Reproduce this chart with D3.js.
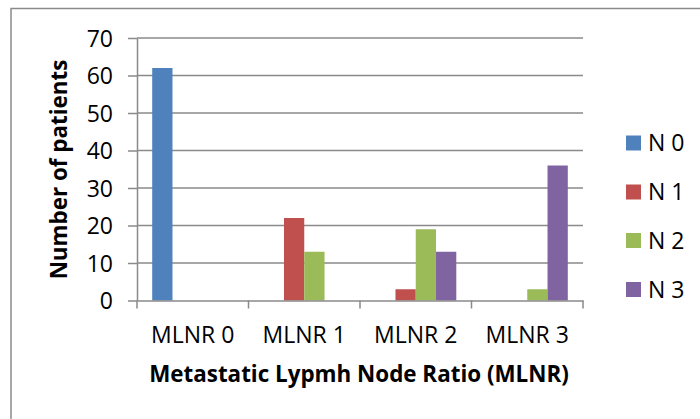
<!DOCTYPE html>
<html>
<head>
<meta charset="utf-8">
<script src="https://cdn.jsdelivr.net/npm/d3@7"></script>
<style>
  html, body { margin: 0; padding: 0; background: #fff; }
  svg { display: block; }
  text { font-family: "Open Sans", sans-serif; fill: #000; }
</style>
</head>
<body>
<svg id="chart" width="700" height="419"></svg>
<script>
const categories = ["MLNR 0", "MLNR 1", "MLNR 2", "MLNR 3"];
const seriesNames = ["N 0", "N 1", "N 2", "N 3"];
const seriesColors = ["#4F81BD", "#C0504D", "#9BBB59", "#8064A2"];
const n0 = [62, 0, 0, 0];
const n1 = [0, 22, 3, 0];
const n2 = [0, 13, 19, 3];
const n3 = [0, 0, 13, 36];
const yTicks = [0, 10, 20, 30, 40, 50, 60, 70];
const yTitle = "Number of patients";
const xTitle = "Metastatic Lypmh Node Ratio (MLNR)";

(function () {
const seriesValues = [n0, n1, n2, n3];
const svg = d3.select("#chart");

// outer chart border (extends past right/bottom edges)
svg.append("rect")
  .attr("x", 11).attr("y", 8.5)
  .attr("width", 760).attr("height", 480)
  .attr("fill", "none").attr("stroke", "#8a8a8a").attr("stroke-width", 1.5);

const pl = 137, pr = 583, pt = 38, pb = 300.5;

const x0 = d3.scaleBand().domain(categories).range([pl, pr]).paddingInner(0).paddingOuter(0);
const barW = x0.bandwidth() / 5.5;
const x1 = d3.scaleBand().domain(seriesNames)
  .range([barW * 0.75, barW * 0.75 + barW * 4]).padding(0);
const y = d3.scaleLinear().domain([0, 70]).range([pb, pt]);

const gridColor = "#8a8a8a";

// gridlines
svg.append("g").selectAll("line").data(yTicks.filter(d => d > 0)).join("line")
  .attr("x1", pl).attr("x2", pr)
  .attr("y1", d => y(d)).attr("y2", d => y(d))
  .attr("stroke", gridColor).attr("stroke-width", 1.5);

// y axis
const yAxis = svg.append("g").attr("transform", `translate(${pl},0)`)
  .call(d3.axisLeft(y).tickValues(yTicks).tickSize(9).tickPadding(15).tickSizeOuter(0));
yAxis.select(".domain").attr("stroke", gridColor).attr("stroke-width", 1.5);
yAxis.selectAll(".tick line").attr("stroke", gridColor).attr("stroke-width", 1.5);
yAxis.selectAll(".tick text").attr("font-size", 23).attr("font-family", "Open Sans")
  .attr("fill", "#000").attr("dy", "0.36em");

// bars
const groups = svg.append("g").selectAll("g").data(seriesNames).join("g")
  .attr("fill", (d, i) => seriesColors[i]);
groups.selectAll("rect")
  .data((s, si) => categories.map((c, ci) => ({ c, s, v: seriesValues[si][ci] })))
  .join("rect")
  .attr("x", d => x0(d.c) + x1(d.s))
  .attr("width", x1.bandwidth())
  .attr("y", d => y(d.v))
  .attr("height", d => y(0) - y(d.v));

// x axis
const xAxis = svg.append("g").attr("transform", `translate(0,${pb})`)
  .call(d3.axisBottom(x0).tickSize(0).tickPadding(26).tickSizeOuter(0));
xAxis.select(".domain").attr("stroke", gridColor).attr("stroke-width", 1.5);
xAxis.selectAll(".tick text").attr("font-size", 23).attr("font-family", "Open Sans").attr("fill", "#000");
// category boundary tick marks
svg.append("g").selectAll("line")
  .data(categories.map(c => x0(c)).concat([pr]))
  .join("line")
  .attr("x1", d => d).attr("x2", d => d)
  .attr("y1", pb).attr("y2", pb + 8)
  .attr("stroke", gridColor).attr("stroke-width", 1.5);

// axis titles
svg.append("text")
  .attr("x", 359).attr("y", 382)
  .attr("text-anchor", "middle").attr("font-weight", "bold").attr("font-size", 22.4)
  .text(xTitle);
svg.append("text")
  .attr("transform", `translate(67,169.5) rotate(-90)`)
  .attr("text-anchor", "middle").attr("font-weight", "bold").attr("font-size", 22.4)
  .text(yTitle);

// legend
const legY = [143, 192, 240.5, 289.5];
const leg = svg.append("g").selectAll("g").data(seriesNames).join("g")
  .attr("transform", (d, i) => `translate(626,${legY[i]})`);
leg.append("rect").attr("x", 0).attr("y", -7.5).attr("width", 15).attr("height", 15)
  .attr("fill", (d, i) => seriesColors[i]);
leg.append("text").attr("x", 22).attr("y", 0).attr("dy", "0.36em")
  .attr("font-size", 23).text(d => d);
})();
</script>
</body>
</html>
